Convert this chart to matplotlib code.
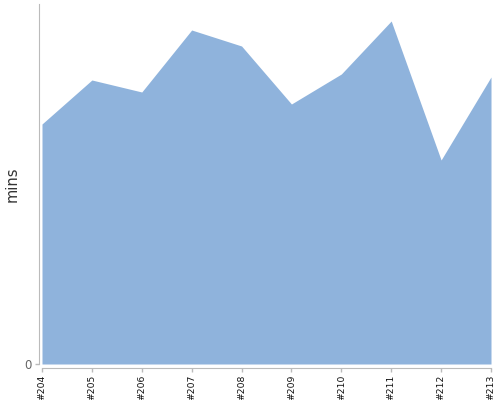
import matplotlib
matplotlib.use('Agg')
import matplotlib.pyplot as plt

builds = ['#204', '#205', '#206', '#207', '#208', '#209', '#210', '#211', '#212', '#213']
mins = [240, 284, 272, 334, 318, 260, 290, 343, 204, 287]

fig = plt.figure(figsize=(5, 4), dpi=100)
ax = fig.add_axes([0.084, 0.09, 0.898, 0.9])

x = list(range(len(builds)))
ax.fill_between(x, mins, 0, color='#8fb3dc', linewidth=0)

ax.set_xlim(0, len(builds) - 1)
ax.set_ylim(0, 360)
ax.set_xticks(x)
ax.set_xticklabels(builds)
ax.set_yticks([0])
ax.set_yticklabels(['0'])
ax.set_ylabel('mins', fontsize=10.5, color='#333333')
ax.yaxis.set_label_coords(-0.05, 0.5)

for side in ['top', 'right']:
    ax.spines[side].set_visible(False)
ax.spines['left'].set_position(('outward', 2.5))
ax.spines['bottom'].set_position(('outward', 2.9))
for side in ['left', 'bottom']:
    ax.spines[side].set_color('#bbbbbb')
ax.tick_params(axis='both', colors='#bbbbbb', length=3, width=1, pad=2)
ax.tick_params(axis='x', labelcolor='#111111', labelsize=6.7, labelrotation=90, pad=1.5)
ax.tick_params(axis='y', labelcolor='#666666', labelsize=8.5)

fig.savefig('out.png', dpi=100)
